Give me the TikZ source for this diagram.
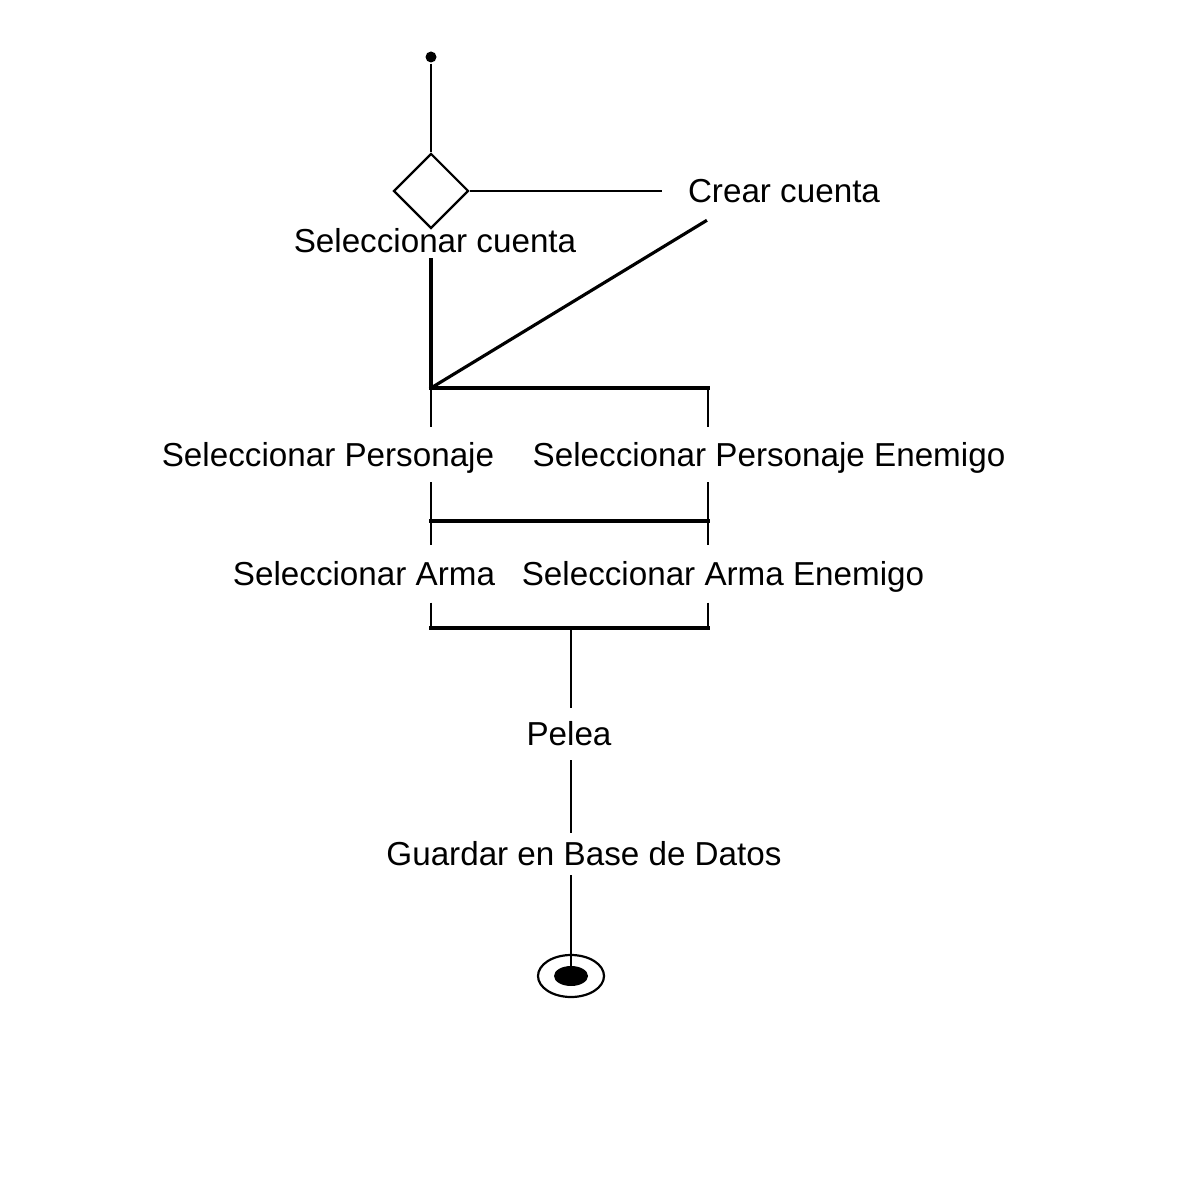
\documentclass[tikz,border=0pt]{standalone}
\usepackage{fontspec}
\setmainfont{Liberation Sans}
\usetikzlibrary{shapes.geometric}

\begin{document}
\begin{tikzpicture}
  [line width=1.25pt,every node/.style={font=\fontsize{18.9}{22}\selectfont},
   act/.style={inner sep=0pt,text height=13.5pt,text depth=0pt,minimum height=1.06cm},
   bar/.style={line width=1.8pt,line cap=rect}]
  \useasboundingbox (0,0) rectangle (24,-24);
  \node (start) at (8.62,-1.14) [circle,fill,inner sep=0pt,minimum size=0.22cm] {};
  \node (dec) at (8.62,-3.82) [diamond,draw,inner sep=0pt,minimum size=1.5cm] {};
  \node (crear) at (15.68,-3.82) [act,inner xsep=0.5cm,minimum height=1.16cm] {Crear cuenta};
  \node (selcuenta) at (8.7,-4.82) [act,minimum height=0.7cm] {Seleccionar cuenta};
  \node (selpers) at (6.56,-9.09) [act] {Seleccionar Personaje};
  \node (selpersen) at (15.38,-9.09) [act] {Seleccionar Personaje Enemigo};
  \node (selarma) at (7.28,-11.48) [act,minimum height=1.1cm] {Seleccionar Arma};
  \node (selarmaen) at (14.46,-11.48) [act,minimum height=1.1cm] {Seleccionar Arma Enemigo};
  \node (pelea) at (11.38,-14.68) [act,minimum height=1cm] {Pelea};
  \node (guardar) at (11.68,-17.08) [act,minimum height=0.8cm] {Guardar en Base de Datos};
  \node (fin) at (11.42,-19.52) [ellipse,draw,minimum width=1.32cm,minimum height=0.84cm] {};
  \fill (fin) ellipse (0.34cm and 0.2cm);

  \coordinate (fork1) at (8.62,-7.76);
  \coordinate (fork1r) at (14.16,-7.76);
  \coordinate (bar2) at (8.62,-10.42);
  \coordinate (bar2r) at (14.16,-10.42);
  \coordinate (join3l) at (8.62,-12.56);
  \coordinate (join3r) at (14.16,-12.56);
  \coordinate (join3) at (11.42,-12.56);

  \draw (start) -- (dec);
  \draw (dec.east) -- (crear.west);
  \draw[bar] (selcuenta.south -| fork1) -- (fork1);
  \draw[bar] (crear.201) -- (fork1);
  \draw[bar] (fork1) -- (fork1r);
  \draw[bar] (bar2) -- (bar2r);
  \draw[bar] (join3l) -- (join3r);

  \foreach \from/\to in {fork1/selpers.north,fork1r/selpersen.north,
      {fork1 |- selpers.south}/selarma.north,{fork1r |- selpersen.south}/selarmaen.north,
      {fork1 |- selarma.south}/join3l,{fork1r |- selarmaen.south}/join3r,
      join3/pelea.north,{join3 |- pelea.south}/guardar.north,{join3 |- guardar.south}/fin}
    \draw (\from) -- (\from |- \to);
\end{tikzpicture}
\end{document}
